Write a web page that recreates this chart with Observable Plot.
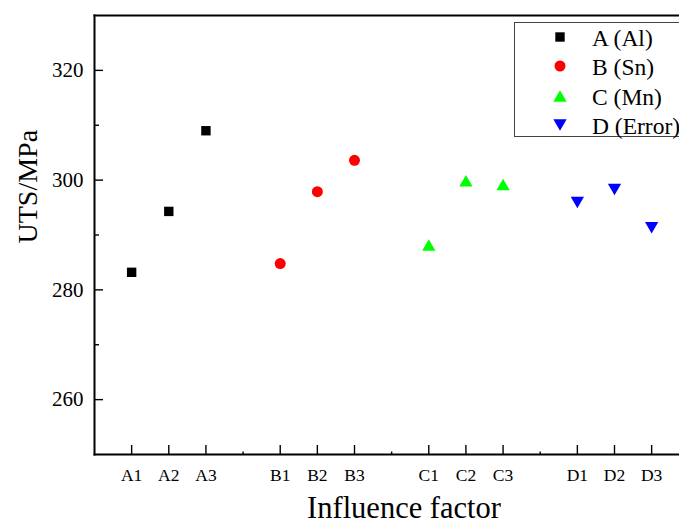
<!DOCTYPE html>
<html><head><meta charset="utf-8">
<script src="https://cdn.jsdelivr.net/npm/d3@7"></script>
<script src="https://cdn.jsdelivr.net/npm/@observablehq/plot@0.6"></script>
<style>
html,body{margin:0;padding:0;background:#fff;overflow:hidden;}
#wrap{position:relative;width:679px;height:526px;overflow:hidden;font-family:"Liberation Serif","Times New Roman",serif;color:#000;}
#wrap svg.plot{display:block;}
#legend{position:absolute;left:514px;top:22px;width:200px;height:115px;border:1px solid #444;box-sizing:border-box;background:#fff;}
.row{position:absolute;left:0;height:30px;width:200px;}
.row svg{position:absolute;left:36px;top:6px;}
.row span{position:absolute;left:77px;top:1px;font-size:23.5px;line-height:30px;white-space:nowrap;}
</style></head><body><div id="wrap"></div>
<script>
// ---- data ----
const groups = ["A", "B", "C", "D"];
const levels = ["1", "2", "3"];
const seriesNames = ["A (Al)", "B (Sn)", "C (Mn)", "D (Error)"];
const valuesA = [283.2, 294.3, 309.0];
const valuesB = [284.8, 297.9, 303.6];
const valuesC = [288.2, 299.9, 299.2];
const valuesD = [295.9, 298.3, 291.3];
const yTicks = [260, 280, 300, 320];
const yMinorTicks = [270, 290, 310];
const colors = ["#000000", "#ff0000", "#00ff00", "#0000ff"];
const xTitle = "Influence factor";
const yTitle = "UTS/MPa";

// ---- symbols ----
const symSquare = {draw(c, size){ const r = Math.sqrt(size/Math.PI), h = 0.94*r; c.moveTo(-h,-h); c.lineTo(h,-h); c.lineTo(h,h); c.lineTo(-h,h); c.closePath(); }};
const symCircle = {draw(c, size){ const r = Math.sqrt(size/Math.PI)*1.1; c.moveTo(r,0); c.arc(0,0,r,0,2*Math.PI); c.closePath(); }};
const symUp = {draw(c, size){ const r = Math.sqrt(size/Math.PI), w = 1.33*r, h = 1.15*r; c.moveTo(0,-h); c.lineTo(w,h); c.lineTo(-w,h); c.closePath(); }};
const symDown = {draw(c, size){ const r = Math.sqrt(size/Math.PI), w = 1.33*r, h = 1.15*r; c.moveTo(0,h); c.lineTo(w,-h); c.lineTo(-w,-h); c.closePath(); }};
const symbols = [symSquare, symCircle, symUp, symDown];
const allValues = [valuesA, valuesB, valuesC, valuesD];

// positions: each group takes 3 slots plus one gap slot
const pos = (g, i) => g * (levels.length + 1) + i;
const rows = groups.flatMap((g, gi) => levels.map((l, li) => ({series: gi, cat: g + l, x: pos(gi, li), y: allValues[gi][li]})));
const tickPos = rows.map(d => d.x);
const tickLab = new Map(rows.map(d => [d.x, d.cat]));
const gapPos = groups.slice(0, -1).map((g, gi) => pos(gi, levels.length));

const plot = Plot.plot({
  width: 679, height: 526,
  marginLeft: 94, marginRight: 0, marginTop: 15, marginBottom: 72,
  x: {type: "linear", domain: [-1, 14.75]},
  y: {domain: [250, 330]},
  style: {fontFamily: "'Liberation Serif','Times New Roman',serif", background: "white", color: "#000"},
  marks: [
    Plot.axisY(yTicks, {tickSize: 0, tickPadding: 11, fontSize: 21, label: null}),
    Plot.axisY(yTicks, {tickSize: -9, fill: "none", strokeWidth: 1.4, label: null}),
    Plot.axisY(yMinorTicks, {tickSize: -5, fill: "none", strokeWidth: 1.4, label: null}),
    Plot.axisX(tickPos, {tickSize: 0, tickPadding: 14, fontSize: 17.5, tickFormat: d => tickLab.get(d), label: null}),
    Plot.axisX(tickPos, {tickSize: -9, fill: "none", strokeWidth: 1.4, label: null}),
    Plot.axisX(gapPos, {tickSize: -2.5, fill: "none", strokeWidth: 1.4, label: null}),
    Plot.frame({anchor: "left", strokeWidth: 2}),
    Plot.frame({anchor: "bottom", strokeWidth: 2}),
    Plot.frame({anchor: "top", strokeWidth: 2}),
    ...groups.map((g, gi) => Plot.dot(rows.filter(d => d.series === gi), {x: "x", y: "y", symbol: symbols[gi], r: 5, fill: colors[gi], stroke: "none"})),
    Plot.text([yTitle], {text: d => d, frameAnchor: "left", rotate: -90, dx: -66, dy: 8.5, fontSize: 28, lineAnchor: "middle"}),
    Plot.text([xTitle], {text: d => d, frameAnchor: "bottom", dx: 17, dy: 54, fontSize: 30.5, lineAnchor: "middle"})
  ]
});
const wrap = document.getElementById("wrap");
wrap.appendChild(plot);

// legend
const leg = document.createElement("div");
leg.id = "legend";
seriesNames.forEach((name, i) => {
  const row = document.createElement("div");
  row.className = "row";
  row.style.top = (i * 29.3 - 1) + "px";
  const path = d3.symbol(symbols[i], Math.PI * 25)();
  row.innerHTML = `<svg width="18" height="18" viewBox="-9 -9 18 18"><path d="${path}" fill="${colors[i]}"/></svg><span>${name}</span>`;
  leg.appendChild(row);
});
wrap.appendChild(leg);
</script>
</body></html>
